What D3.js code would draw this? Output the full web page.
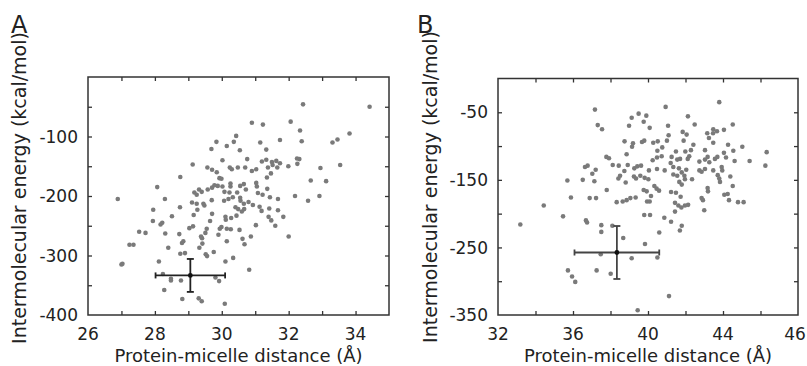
<!DOCTYPE html>
<html>
<head>
<meta charset="utf-8">
<script src="https://cdn.jsdelivr.net/npm/d3@7/dist/d3.min.js"></script>
<style>
  html, body { margin: 0; padding: 0; background: #fff; }
  svg text { font-family: "DejaVu Sans", sans-serif; fill: #222; }
</style>
</head>
<body>
<svg id="chart" width="807" height="366"></svg>
<script>
// Panel A: protein-micelle distance (Å) vs intermolecular energy (kcal/mol)
const aPoints = [
  [32.43,-46],[34.42,-50],[30.90,-77],[31.23,-80],[32.06,-75],[32.34,-90],[33.82,-95],[30.43,-99],[29.84,-109],[30.36,-109],
  [31.15,-110],[31.74,-106],[32.39,-108],[33.31,-110],[33.46,-105],[29.69,-121],[30.15,-116],[30.54,-123],[31.33,-122],
  [30.02,-140],[30.76,-138],[31.20,-142],[31.33,-139],[31.50,-143],[31.63,-141],[31.74,-145],[32.25,-137],[32.32,-138],
  [29.13,-147],[29.57,-152],[29.71,-156],[29.85,-160],[30.24,-152],[30.30,-155],[30.48,-152],[30.70,-152],[30.90,-158],
  [31.03,-155],[31.38,-152],[31.52,-148],[31.66,-152],[31.99,-150],[32.26,-146],[32.95,-153],[33.54,-148],
  [28.76,-168],[31.35,-169],[32.66,-174],[33.12,-175],[29.93,-170],[29.99,-171],[31.47,-162],[28.07,-185],
  [29.32,-189],[29.18,-194],[29.25,-198],[29.40,-193],[29.58,-189],[29.71,-186],[29.78,-182],[29.88,-183],[30.02,-184],
  [30.26,-179],[30.26,-184],[30.55,-183],[30.66,-180],[30.72,-189],[31.03,-178],[31.05,-184],[31.36,-188],[30.46,-194],
  [30.23,-194],[30.08,-193],[31.08,-195],[31.22,-198],[31.44,-202],[31.68,-205],[32.19,-200],[32.58,-208],[32.92,-200],
  [26.89,-205],[28.30,-205],[29.11,-211],[29.25,-213],[29.45,-213],[29.70,-207],[30.07,-208],[30.20,-205],[30.33,-202],
  [30.55,-203],[30.56,-208],[30.66,-213],[30.80,-210],[30.93,-215],
  [27.95,-223],[28.75,-219],[29.27,-223],[29.48,-216],[30.41,-219],[30.49,-222],[30.60,-226],[30.67,-222],[31.13,-218],
  [31.19,-225],[31.42,-221],[31.68,-224],
  [28.51,-234],[29.16,-232],[29.71,-230],[30.11,-235],[30.28,-237],[30.12,-240],[30.44,-233],[31.40,-235],[31.84,-235],
  [27.94,-242],[28.22,-245],[28.17,-248],[29.65,-242],[31.48,-241],[31.60,-250],[31.02,-249],
  [29.03,-254],[29.14,-251],[29.55,-255],[29.94,-255],[29.99,-252],[30.15,-255],[30.27,-256],[30.53,-257],
  [27.53,-260],[27.72,-262],
  [28.31,-263],[28.73,-264],[29.38,-268],[29.41,-271],[29.51,-262],[29.90,-265],[30.62,-272],[30.87,-268],[30.68,-281],
  [32.00,-268],[27.24,-282],[27.36,-282],[28.40,-287],[28.81,-279],[28.85,-276],[29.42,-280],[29.33,-287],[28.76,-297],
  [28.90,-296],[29.52,-298],[29.56,-301],[29.76,-294],[30.15,-276],[30.11,-310],[30.34,-304],[27.00,-315],[27.03,-314],
  [28.12,-310],[30.82,-324],[28.24,-331],[28.48,-339],[28.48,-342],[28.78,-342],[29.81,-337],[29.92,-343],[28.28,-358],
  [28.82,-373],[29.31,-372],[29.40,-377],[30.09,-381]
];
const aMean = [29.06, -333.5];
const aSd = [1.04, 27.7];
const aXDomain = [26, 35];
const aYDomain = [-400, 0];
const aXTicks = [27, 28, 29, 30, 31, 32, 33, 34];
const aXLabels = [[26, "26"], [28, "28"], [30, "30"], [32, "32"], [34, "34"]];
const aYTicks = [-350, -300, -250, -200, -150, -100, -50];
const aYLabels = [[-100, "-100"], [-200, "-200"], [-300, "-300"], [-400, "-400"]];

// Panel B
const bPoints = [
  [43.80,-35],[40.94,-42],[37.17,-46],[39.50,-52],[39.13,-58],[39.91,-55],[39.77,-64],[42.13,-56],[37.32,-69],[37.55,-75],
  [38.99,-70],[40.09,-73],[41.07,-70],[42.49,-68],[44.52,-68],[43.48,-75],[43.68,-78],[43.16,-81],[43.47,-81],[44.05,-76],
  [41.85,-79],[42.06,-83],[41.10,-84],[43.25,-88],[43.48,-95],[38.75,-93],[39.20,-96],[39.15,-101],[39.68,-94],[39.80,-92],
  [40.28,-95],[40.52,-93],[41.01,-92],[40.76,-102],[41.90,-92],[42.42,-98],[42.29,-106],[40.50,-107],[41.49,-108],
  [41.99,-108],[43.04,-106],[44.27,-98],[44.55,-107],[44.05,-110],[45.03,-101],[46.33,-109],[38.86,-112],[37.78,-116],
  [37.92,-118],
  [40.25,-121],[40.48,-117],[40.73,-115],[41.21,-125],[41.26,-116],[41.56,-120],[41.71,-119],[42.12,-119],[42.20,-115],
  [42.74,-123],[43.04,-120],[43.18,-116],[43.27,-124],[43.57,-119],[43.70,-116],[44.16,-117],[44.62,-122],[45.42,-122],
  [46.26,-129],
  [36.64,-131],[36.78,-129],[37.21,-135],[37.03,-141],[35.70,-151],[36.52,-150],[37.14,-152],[38.12,-128],[38.44,-129],
  [38.92,-128],[38.74,-137],[38.51,-144],[38.42,-148],[38.81,-154],[39.27,-133],[39.43,-130],[39.63,-129],[39.25,-145],
  [39.36,-148],[39.59,-144],[39.82,-147],[40.02,-149],[40.05,-136],[40.48,-134],[40.89,-136],
  [41.35,-131],[41.35,-142],[41.56,-144],[41.65,-133],[41.80,-139],[41.94,-144],[42.04,-135],[41.97,-149],[41.67,-153],
  [41.80,-157],[42.35,-149],[42.74,-136],[42.86,-138],[43.04,-134],[43.48,-136],[43.72,-143],[43.80,-148],[43.84,-153],
  [43.93,-131],[43.96,-136],[44.39,-145],[44.52,-159],[43.18,-162],[43.20,-167],[42.86,-177],[42.93,-180],[43.00,-195],
  [44.07,-172],[44.25,-171],[44.32,-180],[44.80,-183],[45.10,-183],
  [37.80,-165],[35.89,-176],[36.89,-177],[37.23,-177],[34.44,-188],[35.47,-204],[33.19,-216],[36.69,-210],[36.75,-213],
  [37.51,-217],[37.51,-227],[38.10,-218],
  [38.33,-183],[38.65,-182],[38.86,-180],[39.06,-177],[39.34,-176],[39.77,-165],[39.93,-167],[40.16,-174],[40.34,-159],
  [40.46,-163],[40.59,-166],[39.95,-182],[40.09,-182],[39.80,-202],[40.11,-202],[40.87,-206],[41.23,-168],[41.49,-169],
  [41.74,-175],[41.44,-184],[41.62,-188],[41.78,-191],[41.97,-188],[42.14,-187],[41.44,-197],[41.23,-212],[41.80,-218],
  [41.70,-225],[40.60,-228],
  [38.68,-236],[39.84,-245],[37.48,-260],[39.13,-266],[40.50,-265],[35.73,-284],[35.95,-293],[36.12,-301],[37.26,-284],
  [38.01,-289],[41.12,-322],[39.45,-343]
];
const bMean = [38.34, -257.5];
const bSd = [2.26, 39.2];
const bXDomain = [32, 48];
const bYDomain = [-350, 0];
const bXTicks = [34, 36, 38, 40, 42, 44, 46];
// the last tick label reads "46" in the source figure
const bXLabels = [[32, "32"], [36, "36"], [40, "40"], [44, "44"], [48, "46"]];
const bYTicks = [-300, -250, -200, -150, -100, -50];
const bYLabels = [[-50, "-50"], [-150, "-150"], [-250, "-250"], [-350, "-350"]];

const xTitle = "Protein-micelle distance (Å)";
const yTitle = "Intermolecular energy (kcal/mol)";

const svg = d3.select('#chart');

function drawPanel(cfg) {
  const { left, right, top, bottom } = cfg.box;
  const x = d3.scaleLinear().domain(cfg.xDomain).range([left, right]);
  const y = d3.scaleLinear().domain(cfg.yDomain).range([bottom, top]);
  const g = svg.append('g');

  // inward minor ticks on all four sides
  const tickLen = 4;
  const noLabel = () => '';
  g.append('g').attr('transform', `translate(0,${bottom})`)
    .call(d3.axisBottom(x).tickValues(cfg.xTicks).tickSize(-tickLen).tickFormat(noLabel));
  g.append('g').attr('transform', `translate(0,${top})`)
    .call(d3.axisTop(x).tickValues(cfg.xTicks).tickSize(-tickLen).tickFormat(noLabel));
  g.append('g').attr('transform', `translate(${left},0)`)
    .call(d3.axisLeft(y).tickValues(cfg.yTicks).tickSize(-tickLen).tickFormat(noLabel));
  g.append('g').attr('transform', `translate(${right},0)`)
    .call(d3.axisRight(y).tickValues(cfg.yTicks).tickSize(-tickLen).tickFormat(noLabel));
  g.selectAll('.domain').remove();
  g.selectAll('.tick line').attr('stroke', '#333').attr('stroke-width', 1.3);

  // tick labels
  g.selectAll('text.xlab').data(cfg.xLabels).enter().append('text')
    .attr('class', 'xlab')
    .attr('x', d => Math.min(x(d[0]), 795))
    .attr('y', bottom + 25)
    .attr('text-anchor', 'middle')
    .style('font-size', '17px')
    .text(d => d[1]);
  g.selectAll('text.ylab').data(cfg.yLabels).enter().append('text')
    .attr('class', 'ylab')
    .attr('x', left - 10)
    .attr('y', d => y(d[0]))
    .attr('dy', '0.36em')
    .attr('text-anchor', 'end')
    .style('font-size', '17px')
    .text(d => d[1]);

  // frame
  g.append('rect')
    .attr('x', left).attr('y', top)
    .attr('width', right - left).attr('height', bottom - top)
    .attr('fill', 'none').attr('stroke', '#333').attr('stroke-width', 1.5);

  // scatter
  g.append('g').selectAll('circle').data(cfg.points).enter().append('circle')
    .attr('cx', d => x(d[0]))
    .attr('cy', d => y(d[1]))
    .attr('r', 2.3)
    .attr('fill', '#7a7a7a');

  // mean ± sd cross
  const [mx, my] = cfg.mean;
  const [sx, sy] = cfg.sd;
  const eb = g.append('g').attr('stroke', cfg.barColor).attr('stroke-width', 1.8).attr('fill', 'none');
  eb.append('line').attr('x1', x(mx - sx)).attr('x2', x(mx + sx)).attr('y1', y(my)).attr('y2', y(my));
  eb.append('line').attr('x1', x(mx)).attr('x2', x(mx)).attr('y1', y(my - sy)).attr('y2', y(my + sy));
  [mx - sx, mx + sx].forEach(v => eb.append('line')
    .attr('x1', x(v)).attr('x2', x(v)).attr('y1', y(my) - 3).attr('y2', y(my) + 3));
  [my - sy, my + sy].forEach(v => eb.append('line')
    .attr('x1', x(mx) - 3.5).attr('x2', x(mx) + 3.5).attr('y1', y(v)).attr('y2', y(v)));
  g.append('circle').attr('cx', x(mx)).attr('cy', y(my)).attr('r', 2.4).attr('fill', '#111');

  // axis titles
  g.append('text')
    .attr('x', (left + right) / 2).attr('y', 362)
    .attr('text-anchor', 'middle')
    .style('font-size', '18px')
    .text(xTitle);
  g.append('text')
    .attr('transform', `translate(${cfg.yTitleX},${cfg.yTitleY}) rotate(-90)`)
    .attr('text-anchor', 'middle')
    .style('font-size', '19px')
    .text(yTitle);

  // panel letter
  g.append('text')
    .attr('x', cfg.letterX).attr('y', 33)
    .style('font-size', '24px')
    .text(cfg.letter);
}

drawPanel({
  points: aPoints, mean: aMean, sd: aSd,
  xDomain: aXDomain, yDomain: aYDomain,
  xTicks: aXTicks, xLabels: aXLabels, yTicks: aYTicks, yLabels: aYLabels,
  box: { left: 88, right: 389, top: 77, bottom: 315 },
  yTitleX: 26, yTitleY: 188, letter: 'A', letterX: 11, barColor: '#222'
});

drawPanel({
  points: bPoints, mean: bMean, sd: bSd,
  xDomain: bXDomain, yDomain: bYDomain,
  xTicks: bXTicks, xLabels: bXLabels, yTicks: bYTicks, yLabels: bYLabels,
  box: { left: 498, right: 798, top: 78.5, bottom: 315 },
  yTitleX: 436.5, yTitleY: 187, letter: 'B', letterX: 417, barColor: '#444'
});
</script>
</body>
</html>
